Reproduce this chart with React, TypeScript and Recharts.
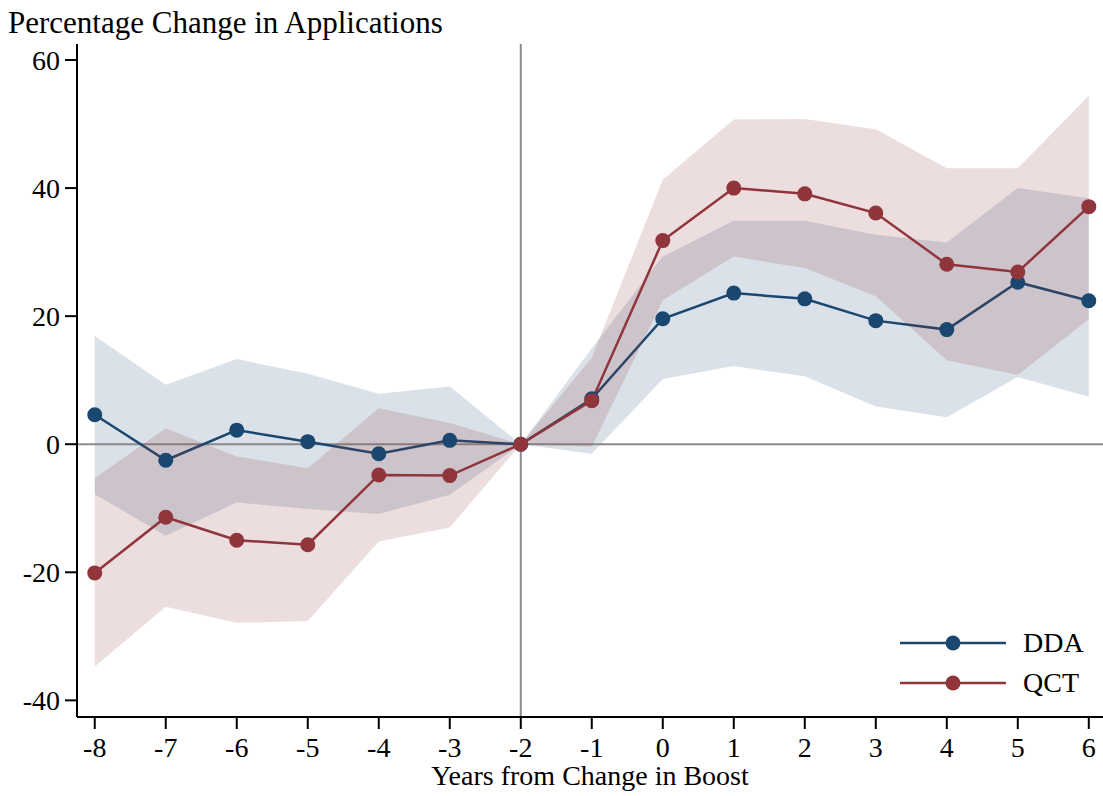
import React from "react"
import {
  ComposedChart,
  Area,
  Line,
  XAxis,
  YAxis,
  ReferenceLine,
} from "recharts"

const years = [-8, -7, -6, -5, -4, -3, -2, -1, 0, 1, 2, 3, 4, 5, 6]

const ddaEst = [4.6, -2.5, 2.2, 0.4, -1.5, 0.6, 0, 7.1, 19.6, 23.6, 22.7, 19.3, 17.9, 25.3, 22.4]
const ddaLow = [-7.8, -14.3, -9.1, -10.1, -10.9, -7.9, 0, -1.5, 10.2, 12.2, 10.6, 5.9, 4.2, 10.5, 7.4]
const ddaHigh = [16.9, 9.3, 13.3, 11.0, 7.9, 9.0, 0, 15.0, 29.3, 34.9, 34.9, 32.7, 31.5, 40.0, 38.4]

const qctEst = [-20.1, -11.4, -15.0, -15.7, -4.8, -4.9, 0, 6.8, 31.8, 40.0, 39.1, 36.1, 28.1, 26.9, 37.1]
const qctLow = [-34.7, -25.4, -27.9, -27.6, -15.2, -13.0, 0, -0.4, 22.5, 29.3, 27.5, 23.1, 13.1, 10.8, 19.5]
const qctHigh = [-5.3, 2.5, -1.9, -3.75, 5.6, 3.3, 0, 13.5, 41.3, 50.7, 50.8, 49.2, 43.1, 43.1, 54.4]

const yTicks = [-40, -20, 0, 20, 40, 60]

const NAVY = "#1a476f"
const MAROON = "#90353b"
const GRAY = "#8a8a8a"
const FONT = "'Liberation Serif', 'Times New Roman', serif"

const data = years.map((year, i) => ({
  year,
  dda: ddaEst[i],
  ddaBand: [ddaLow[i], ddaHigh[i]],
  qct: qctEst[i],
  qctBand: [qctLow[i], qctHigh[i]],
}))

const legendItems = [
  { name: "DDA", color: NAVY },
  { name: "QCT", color: MAROON },
]

function LegendBox() {
  return (
    <div
      style={{
        position: "absolute",
        left: 900,
        top: 623,
        fontFamily: FONT,
        fontSize: 28,
        color: "#000",
      }}
    >
      {legendItems.map((item) => (
        <div key={item.name} style={{ display: "flex", alignItems: "center", height: 40 }}>
          <svg width={106} height={40} style={{ display: "block" }}>
            <line x1={0} y1={20} x2={106} y2={20} stroke={item.color} strokeWidth={2.5} />
            <circle cx={53} cy={20} r={7.5} fill={item.color} />
          </svg>
          <span style={{ marginLeft: 17, lineHeight: "40px" }}>{item.name}</span>
        </div>
      ))}
    </div>
  )
}

export default function App() {
  return (
    <div style={{ position: "absolute", left: 0, top: 0, width: 1103, height: 796, background: "#fff" }}>
      <div
        style={{
          position: "absolute",
          left: 8,
          top: 7,
          fontFamily: FONT,
          fontSize: 31,
          lineHeight: "31px",
          color: "#000",
          whiteSpace: "nowrap",
        }}
      >
        Percentage Change in Applications
      </div>
      <ComposedChart
        width={1103}
        height={796}
        data={data}
        margin={{ top: 44, right: 0, left: 0, bottom: 0 }}
      >
        <XAxis
          dataKey="year"
          type="number"
          domain={[-8.25, 6.2]}
          ticks={years}
          allowDataOverflow
          height={79}
          tickSize={12}
          tickMargin={8}
          stroke="#000"
          strokeWidth={2}
          tick={{ fill: "#000", fontSize: 28, fontFamily: FONT }}
          tickLine={{ stroke: "#000", strokeWidth: 2 }}
          label={{
            value: "Years from Change in Boost",
            position: "insideBottom",
            offset: 11,
            fill: "#000",
            fontSize: 28,
            fontFamily: FONT,
          }}
        />
        <YAxis
          type="number"
          domain={[-42.6, 62.5]}
          ticks={yTicks}
          allowDataOverflow
          width={77}
          tickSize={12}
          tickMargin={5}
          stroke="#000"
          strokeWidth={2}
          tick={{ fill: "#000", fontSize: 28, fontFamily: FONT }}
          tickLine={{ stroke: "#000", strokeWidth: 2 }}
        />
        <Area
          dataKey="ddaBand"
          type="linear"
          stroke="none"
          fill={NAVY}
          fillOpacity={0.16}
          isAnimationActive={false}
          activeDot={false}
          zIndex={100}
        />
        <ReferenceLine y={0} stroke={GRAY} strokeWidth={2} zIndex={150} />
        <ReferenceLine x={-2} stroke={GRAY} strokeWidth={2} zIndex={150} />
        <Line
          dataKey="dda"
          type="linear"
          stroke={NAVY}
          strokeWidth={2.5}
          dot={{ r: 7.5, fill: NAVY, stroke: NAVY, strokeWidth: 0 }}
          activeDot={false}
          isAnimationActive={false}
          zIndex={200}
        />
        <Area
          dataKey="qctBand"
          type="linear"
          stroke="none"
          fill={MAROON}
          fillOpacity={0.17}
          isAnimationActive={false}
          activeDot={false}
          zIndex={300}
        />
        <Line
          dataKey="qct"
          type="linear"
          stroke={MAROON}
          strokeWidth={2.5}
          dot={{ r: 7.5, fill: MAROON, stroke: MAROON, strokeWidth: 0 }}
          activeDot={false}
          isAnimationActive={false}
          zIndex={400}
        />
      </ComposedChart>
      <LegendBox />
    </div>
  )
}
